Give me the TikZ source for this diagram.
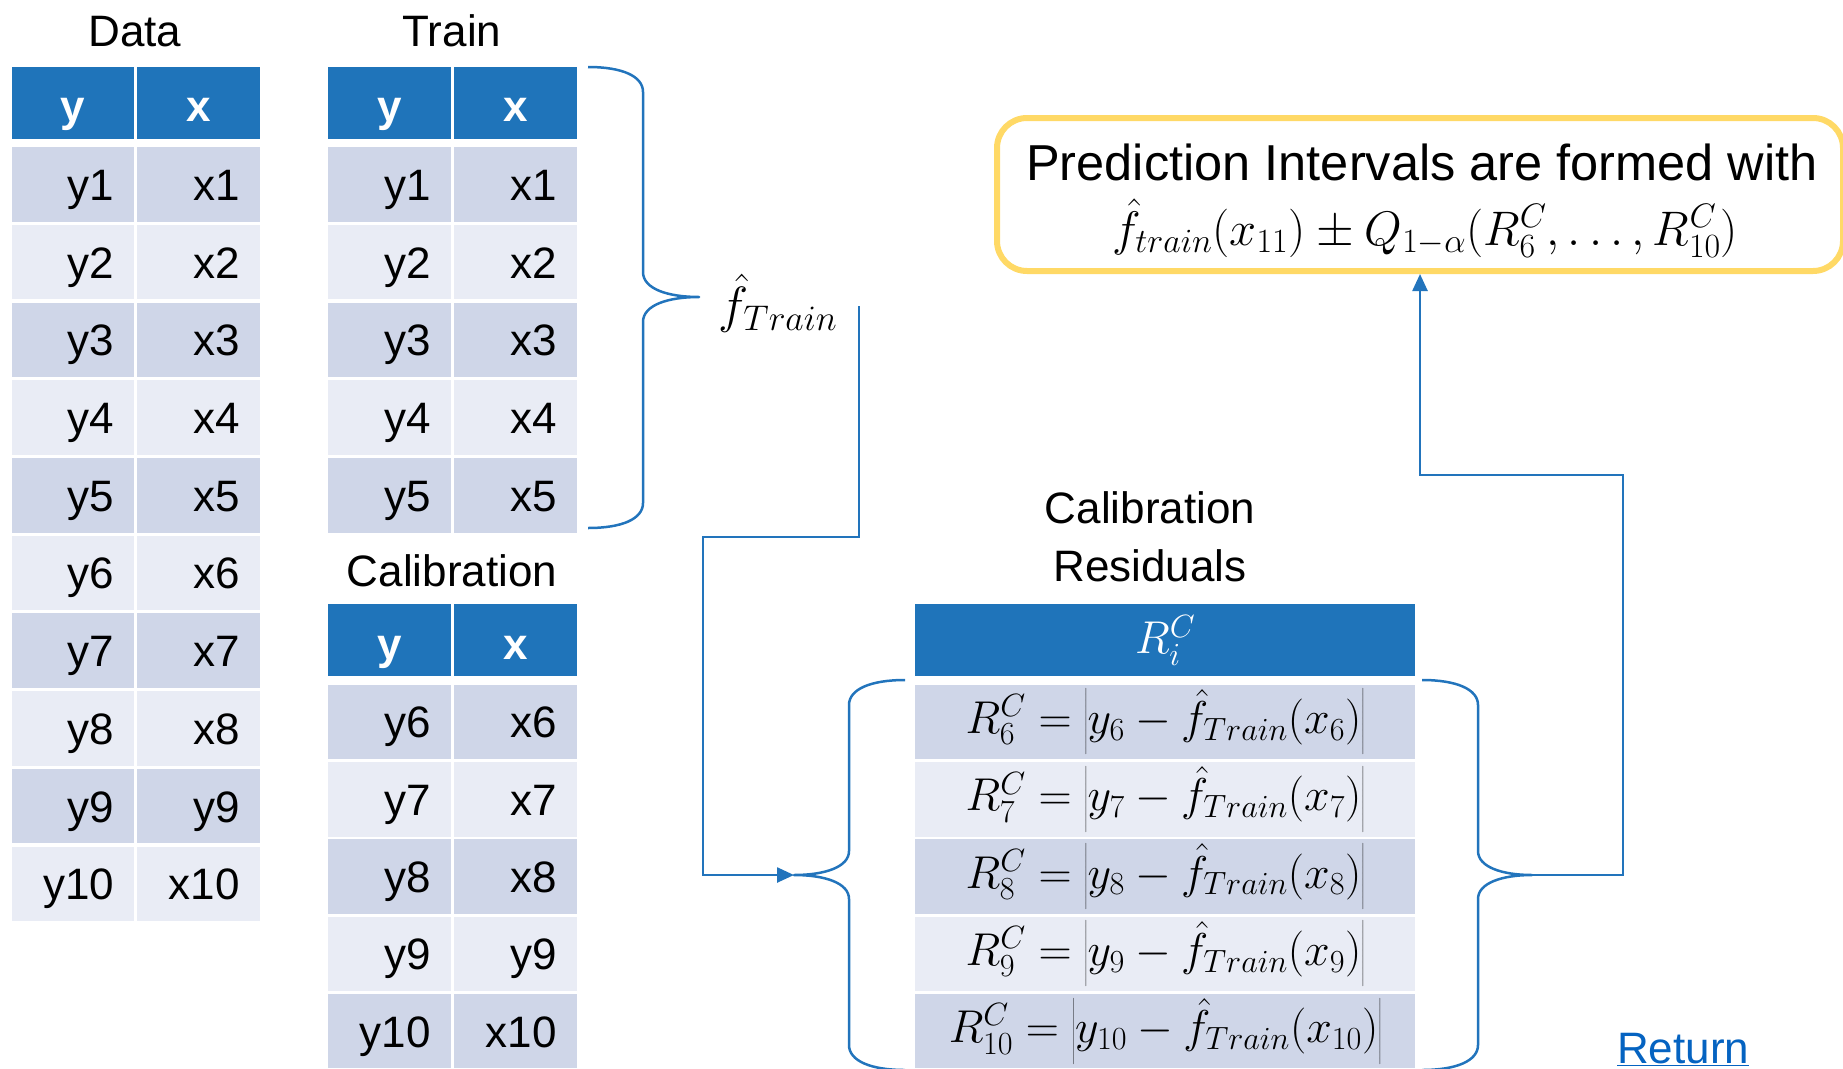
\RequirePackage{fix-cm}
\documentclass[tikz,border=0pt]{standalone}
\usepackage{fontspec}
\setmainfont{Liberation Sans}
\usetikzlibrary{arrows.meta,calc}

\definecolor{hdrblue}{RGB}{31,116,186}
\definecolor{rowdark}{RGB}{207,214,232}
\definecolor{rowlight}{RGB}{233,236,245}
\definecolor{linkblue}{RGB}{5,99,193}
\definecolor{boxgold}{RGB}{255,217,102}
\definecolor{wire}{RGB}{34,116,188}

\tikzset{
  bigtext/.style={font=\fontsize{44}{52}\selectfont},
  mathtext/.style={font=\fontsize{46}{54}\selectfont},
  title/.style={bigtext, inner sep=0pt},
  cellbase/.style={bigtext, inner sep=0pt, minimum height=74.5pt, anchor=north west},
  numcell/.style={cellbase, minimum width=122.5pt, text width=82.5pt, align=right,
                  text height=32pt, text depth=0pt},
  hdrcell/.style={cellbase, minimum width=122.5pt, minimum height=72pt, fill=hdrblue,
                  text=white, font=\fontsize{44}{52}\selectfont\bfseries,
                  text height=38pt, text depth=0pt},
  rescell/.style={mathtext, inner sep=0pt, minimum width=500pt, minimum height=74.5pt,
                  anchor=north west},
  wireline/.style={draw=wire, line width=2.5pt},
  brace/.style={draw=wire, line width=2.5pt, line join=round},
  tip/.style={-{Triangle[length=17pt,width=15pt]}},
}

\begin{document}
\begin{tikzpicture}[x=1pt,y=-1pt]
\useasboundingbox (0,0) rectangle (1843,1068);

% ---------- column titles ----------
\node[title, anchor=base] (tData)  at (135,46)  {Data};
\node[title, anchor=base] (tTrain) at (452,46)  {Train};
\node[title, anchor=base] (tCal)   at (452,586) {Calibration};
\node[title, anchor=base] (tRes1)  at (1150,523) {Calibration};
\node[title, anchor=base] (tRes2)  at (1150,581) {Residuals};

% ---------- full data table ----------
\node[hdrcell] (dh1) at (11.5,66.5) {y};
\node[hdrcell] (dh2) at (137,66.5)  {x};
\foreach \i/\xv/\col in {1/x1/rowdark,2/x2/rowlight,3/x3/rowdark,4/x4/rowlight,
                         5/x5/rowdark,6/x6/rowlight,7/x7/rowdark,8/x8/rowlight,
                         9/y9/rowdark,10/x10/rowlight}{
  \node[numcell, fill=\col] (dy\i) at (11.5,{147+(\i-1)*77.7}) {y\i};
  \node[numcell, fill=\col] (dx\i) at (137,{147+(\i-1)*77.7})  {\xv};
}

% ---------- training split ----------
\node[hdrcell] (th1) at (328,66.5) {y};
\node[hdrcell] (th2) at (454,66.5) {x};
\foreach \i/\col in {1/rowdark,2/rowlight,3/rowdark,4/rowlight,5/rowdark}{
  \node[numcell, fill=\col] (ty\i) at (328,{147+(\i-1)*77.7}) {y\i};
  \node[numcell, fill=\col] (tx\i) at (454,{147+(\i-1)*77.7}) {x\i};
}

% ---------- calibration split ----------
\node[hdrcell] (ch1) at (328,604) {y};
\node[hdrcell] (ch2) at (454,604) {x};
\foreach \k/\i/\xv/\col in {0/6/x6/rowdark,1/7/x7/rowlight,2/8/x8/rowdark,
                            3/9/y9/rowlight,4/10/x10/rowdark}{
  \node[numcell, fill=\col] (cy\i) at (328,{684.5+\k*77.3}) {y\i};
  \node[numcell, fill=\col] (cx\i) at (454,{684.5+\k*77.3}) {\xv};
}

% ---------- calibration residuals ----------
\node[rescell, minimum height=72pt, fill=hdrblue, text=white] (rh) at (915,604) {$R_i^C$};
\foreach \k/\i/\col in {0/6/rowdark,1/7/rowlight,2/8/rowdark,3/9/rowlight,4/10/rowdark}{
  \node[rescell, fill=\col] (r\i) at (915,{684.5+\k*77.3})
    {$R_{\i}^C=\left|y_{\i}-\hat f_{Train}(x_{\i})\right|$};
}

% ---------- fitted model ----------
\node[font=\fontsize{51}{58}\selectfont, inner sep=0pt] (ftrain) at (778,303) {$\hat f_{Train}$};

% ---------- prediction interval box ----------
\node[draw=boxgold, line width=6pt, rounded corners=30pt, minimum width=846pt,
      minimum height=153pt, inner sep=0pt] (pred) at (1420,194.5) {};
\node[font=\fontsize{50.5}{58}\selectfont, anchor=base, inner sep=0pt] (predtxt) at (1422,180)
  {Prediction Intervals are formed with};
\node[font=\fontsize{48.5}{56}\selectfont, inner sep=0pt] (predmath) at (1425,228)
  {$\hat f_{train}(x_{11})\pm Q_{1-\alpha}\bigl(R_6^C,\dots,R_{10}^C\bigr)$};

% ---------- braces ----------
\coordinate (trtip) at (699,297);
\draw[brace] (588,67) .. controls (622,67) and (643,76) .. (643,92)
  -- (643,272) .. controls (643,289) and (668,297) .. (trtip)
  .. controls (668,297) and (643,305) .. (643,322)
  -- (643,503) .. controls (643,519) and (622,528) .. (588,528);

\coordinate (lbtip) at (794,875);
\draw[brace] (905,680) .. controls (871,680) and (849,689) .. (849,705)
  -- (849,851) .. controls (849,867) and (825,875) .. (lbtip)
  .. controls (825,875) and (849,883) .. (849,899)
  -- (849,1045) .. controls (849,1061) and (871,1070) .. (905,1070);

\coordinate (rbtip) at (1532,875);
\draw[brace] (1422,680) .. controls (1456,680) and (1478,689) .. (1478,705)
  -- (1478,851) .. controls (1478,867) and (1502,875) .. (rbtip)
  .. controls (1502,875) and (1478,883) .. (1478,899)
  -- (1478,1045) .. controls (1478,1061) and (1456,1070) .. (1422,1070);

% ---------- connectors ----------
\coordinate (fout) at (859,306);
\draw[wireline, tip] (fout) -- (859,537) -- (703,537) -- (703,875) -- (lbtip);
\draw[wireline, tip] (rbtip) -- (1623,875) -- (1623,475) -| (pred.south);

% ---------- link ----------
\node[bigtext, text=linkblue, anchor=base west, inner sep=0pt] (ret) at (1617,1063)
  {\underline{Return}};
\end{tikzpicture}
\end{document}
